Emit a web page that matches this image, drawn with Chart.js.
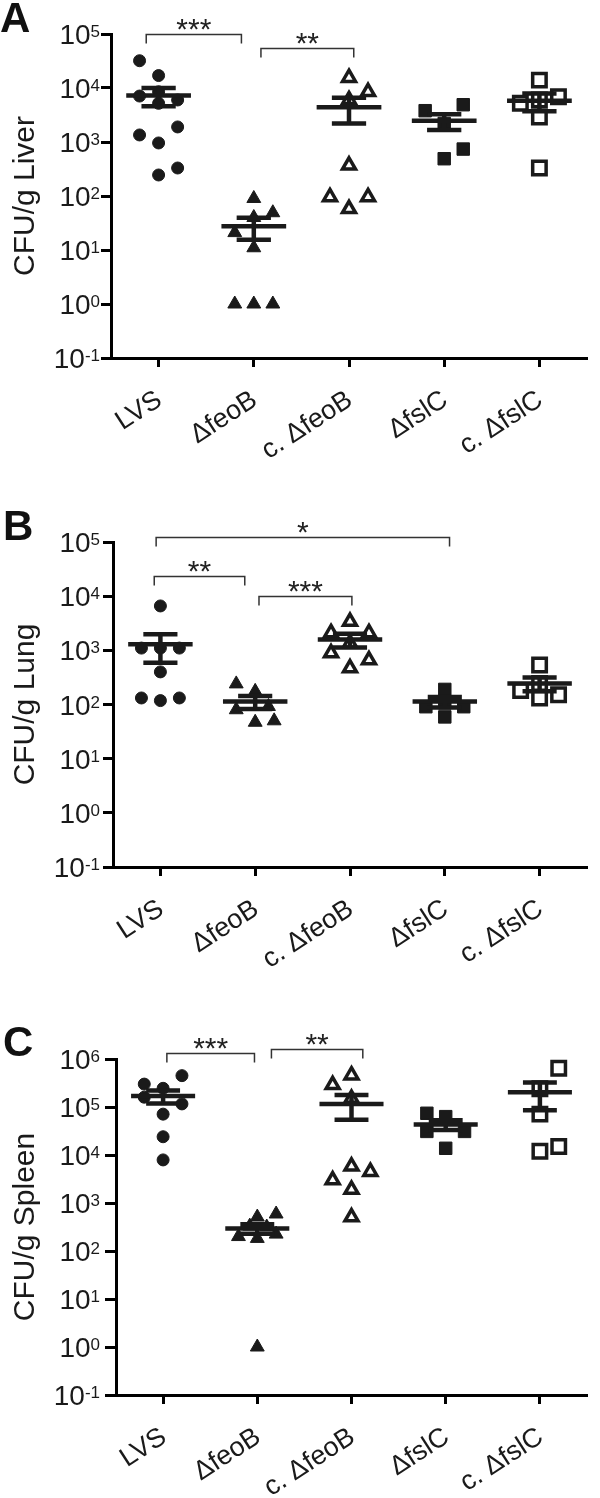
<!DOCTYPE html>
<html lang="en">
<head>
<meta charset="utf-8">
<title>CFU per gram of tissue</title>
<script src="https://cdn.jsdelivr.net/npm/chart.js@4.4.1/dist/chart.umd.min.js"></script>
<style>
  html, body { margin: 0; padding: 0; background: #fff; }
  body { width: 600px; height: 1498px; position: relative; overflow: hidden; }
  canvas { position: absolute; left: 0; }
</style>
</head>
<body>
<canvas id="liver" width="600" height="490" style="top:0"></canvas>
<canvas id="lung" width="600" height="500" style="top:490px"></canvas>
<canvas id="spleen" width="600" height="508" style="top:990px"></canvas>
<script>
const FONT = "'Liberation Sans', Arial, Helvetica, sans-serif";
const INK = '#1a1a1a';

const categories = ['LVS', 'ΔfeoB', 'c. ΔfeoB', 'ΔfslC', 'c. ΔfslC'];

// y tick exponents (labels are 10^n)
const liverTicks = [-1, 0, 1, 2, 3, 4, 5];
const lungTicks = [-1, 0, 1, 2, 3, 4, 5];
const spleenTicks = [-1, 0, 1, 2, 3, 4, 5, 6];

// A - liver, CFU/g for each animal
const liverLVS = [32000, 17000, 8500, 7100, 6000, 5200, 1900, 1350, 960, 330, 245];
const liverFeoB = [90, 49, 40, 21, 11, 1, 1, 1];
const liverCFeoB = [15500, 8500, 6000, 370, 96, 96, 58];
const liverFslC = [4900, 3800, 2200, 740, 490];
const liverCFslC = [14000, 6900, 6000, 5200, 2900, 330];
const liverMean = [7300, 27.5, 4400, 2470, 5800];
const liverSem = [2700, 12, 2200, 800, 2100];

// B - lung
const lungLVS = [6600, 1100, 1100, 1100, 400, 132, 118, 132];
const lungFeoB = [240, 175, 92, 80, 50, 47];
const lungCFeoB = [3400, 2100, 2100, 1350, 890, 660, 470];
const lungFslC = [190, 107, 91, 91, 59];
const lungCFslC = [536, 245, 182, 151, 131];
const lungMean = [1290, 113, 1580, 113, 245];
const lungSem = [700, 30, 450, 25, 70];

// C - spleen
const spleenLVS = [450000, 300000, 245000, 160000, 116000, 71000, 24000, 7900];
const spleenFeoB = [590, 510, 330, 316, 225, 200, 183, 1];
const spleenCFeoB = [460000, 290000, 150000, 5800, 4500, 3000, 1900, 510];
const spleenFslC = [74000, 63000, 31000, 31000, 13800];
const spleenCFslC = [640000, 240000, 71000, 15000, 12000];
const spleenMean = [170000, 294, 116000, 43000, 204000];
const spleenSem = [52000, 66, 62000, 10000, 118000];

// side-by-side slot of each dot in its column (-1 left, 0 middle, 1 right)
const liverCols = [
  [-1, 0, 0, -1, 1, 0, 1, -1, 0, 1, 0],
  [0, 1, 0, -1, 0, -1, 0, 1],
  [0, 1, 0, 0, -1, 1, 0],
  [1, -1, 0, 1, 0],
  [0, 1, 0, -1, 0, 0]
];
const lungCols = [
  [0, -1, 0, 1, 0, -1, 0, 1],
  [-1, 0, 0.7, -1, 1, 0],
  [0, -1, 1, 0, -1, 1, 0],
  [0, 0, -1, 1, 0],
  [0, 0, -1, 1, 0]
];
const spleenCols = [
  [1, -1, 0, -1, 1, 0, 0, 0],
  [1, 0, -0.4, 0.5, 1, -1, 0, 0],
  [0, -1, 0, 0, 1, -1, 0, 0],
  [-1, 0, -1, 1, 0],
  [1, 0, 0, 1, 0]
];

// marker per strain
const markers = [
  { shape: 'circle', r: 6, fill: INK, bw: 1 },
  { shape: 'triangle', r: 8, fill: INK, bw: 1 },
  { shape: 'triangle', r: 7.5, fill: '#fff', bw: 3.5 },
  { shape: 'rect', r: 8.8, fill: INK, bw: 1 },
  { shape: 'rect', r: 9.5, fill: '#fff', bw: 3.5 }
];

// mean bar, SEM caps and the stem joining them, split by gaps
function meanSemPath(mean, sem) {
  const path = [];
  mean.forEach((m, i) => {
    const hi = m + sem[i], lo = m - sem[i];
    path.push({ x: i - 0.34, y: m }, { x: i + 0.34, y: m }, { x: i, y: null });
    path.push({ x: i - 0.18, y: hi }, { x: i + 0.18, y: hi }, { x: i, y: null });
    path.push({ x: i - 0.18, y: lo }, { x: i + 0.18, y: lo }, { x: i, y: null });
    path.push({ x: i, y: lo }, { x: i, y: hi }, { x: i, y: null });
  });
  return path;
}

function annotations(p) {
  return {
    id: 'annotations',
    afterDraw(chart) {
      const { ctx, scales: { x, y } } = chart;
      ctx.save();

      // y tick labels: 10 with a raised exponent, right aligned
      ctx.fillStyle = INK;
      ctx.textBaseline = 'alphabetic';
      ctx.textAlign = 'left';
      y.ticks.forEach(t => {
        const py = y.getPixelForValue(t.value);
        const exp = String(Math.round(Math.log10(t.value)));
        ctx.font = '17px ' + FONT;
        const we = ctx.measureText(exp).width;
        ctx.font = '28px ' + FONT;
        const wb = ctx.measureText('10').width;
        const x0 = p.labelRight - we - wb;
        ctx.fillText('10', x0, py + 10);
        ctx.font = '17px ' + FONT;
        ctx.fillText(exp, x0 + wb, py + 3);
      });

      // significance brackets
      ctx.strokeStyle = '#333';
      ctx.lineWidth = 1.5;
      ctx.fillStyle = '#222';
      ctx.font = '30px ' + FONT;
      ctx.textAlign = 'center';
      p.brackets.forEach(b => {
        const x0 = x.getPixelForValue(b.x0);
        const x1 = x.getPixelForValue(b.x1);
        const yy = Math.round(y.getPixelForValue(b.y)) + 0.5;
        ctx.beginPath();
        ctx.moveTo(x0, yy + 9);
        ctx.lineTo(x0, yy);
        ctx.lineTo(x1, yy);
        ctx.lineTo(x1, yy + 9);
        ctx.stroke();
        ctx.fillText(b.text, (x0 + x1) / 2, yy + 4);
      });

      // panel letter
      ctx.fillStyle = '#111';
      ctx.font = 'bold 42px ' + FONT;
      ctx.textAlign = 'left';
      ctx.fillText(p.letter, p.letterX, p.letterY);
      ctx.restore();
    }
  };
}

function makePanel(id, p) {
  const datasets = [{
    data: meanSemPath(p.mean, p.sem),
    showLine: true,
    spanGaps: false,
    borderColor: INK,
    borderWidth: 4.5,
    pointRadius: 0,
    order: 0
  }];
  p.groups.forEach((vals, i) => {
    const m = markers[i];
    datasets.push({
      data: vals.map((v, k) => ({ x: i + p.cols[i][k] * 0.2, y: v })),
      pointStyle: m.shape,
      pointRadius: m.r,
      backgroundColor: m.fill,
      borderColor: INK,
      borderWidth: m.bw,
      order: 1
    });
  });

  new Chart(document.getElementById(id), {
    type: 'scatter',
    data: { datasets },
    options: {
      responsive: false,
      animation: false,
      events: [],
      layout: { padding: { left: 0, top: p.top, right: p.right, bottom: 0 } },
      plugins: { legend: { display: false }, tooltip: { enabled: false } },
      scales: {
        x: {
          type: 'linear',
          min: -0.5,
          max: 4.5,
          border: { display: true, width: 3, color: '#000' },
          grid: { drawOnChartArea: false, drawTicks: true, tickLength: 9, tickWidth: 3, tickColor: '#000' },
          ticks: {
            autoSkip: false,
            minRotation: 33,
            maxRotation: 33,
            padding: 17,
            labelOffset: 1,
            color: INK,
            font: { family: FONT, size: 27 },
            callback: v => categories[v] ?? ''
          },
          afterBuildTicks: s => { s.ticks = categories.map((c, i) => ({ value: i })); },
          afterFit: s => { s.height = p.xHeight; }
        },
        y: {
          type: 'logarithmic',
          min: Math.pow(10, p.ticks[0]),
          max: Math.pow(10, p.ticks[p.ticks.length - 1]),
          border: { display: true, width: 3, color: '#000' },
          grid: { drawOnChartArea: false, drawTicks: true, tickLength: p.tickLen, tickWidth: 3, tickColor: '#000' },
          ticks: { display: false },
          title: {
            display: true,
            text: p.title,
            color: INK,
            font: { family: FONT, size: 30 },
            padding: { top: 8, bottom: 0 }
          },
          afterBuildTicks: s => { s.ticks = p.ticks.map(e => ({ value: Math.pow(10, e) })); },
          afterFit: s => { s.width = p.left; }
        }
      }
    },
    plugins: [annotations(p)]
  });
}

makePanel('liver', {
  title: 'CFU/g Liver', letter: 'A', letterX: 0, letterY: 32,
  top: 34, left: 111, right: 6.5, xHeight: 132, tickLen: 10, labelRight: 100,
  ticks: liverTicks,
  groups: [liverLVS, liverFeoB, liverCFeoB, liverFslC, liverCFslC],
  cols: liverCols, mean: liverMean, sem: liverSem,
  brackets: [
    { x0: -0.13, x1: 0.87, y: 1e5, text: '***' },
    { x0: 1.075, x1: 2.05, y: 55000, text: '**' }
  ]
});

makePanel('lung', {
  title: 'CFU/g Lung', letter: 'B', letterX: 3, letterY: 50,
  top: 52, left: 113, right: 5, xHeight: 123, tickLen: 10, labelRight: 100,
  ticks: lungTicks,
  groups: [lungLVS, lungFeoB, lungCFeoB, lungFslC, lungCFslC],
  cols: lungCols, mean: lungMean, sem: lungSem,
  brackets: [
    { x0: -0.045, x1: 3.05, y: 123000, text: '*' },
    { x0: -0.065, x1: 0.89, y: 23400, text: '**' },
    { x0: 1.04, x1: 2.02, y: 10000, text: '***' }
  ]
});

makePanel('spleen', {
  title: 'CFU/g Spleen', letter: 'C', letterX: 3, letterY: 66,
  top: 69, left: 116, right: 2.5, xHeight: 103, tickLen: 11, labelRight: 100,
  ticks: spleenTicks,
  groups: [spleenLVS, spleenFeoB, spleenCFeoB, spleenFslC, spleenCFslC],
  cols: spleenCols, mean: spleenMean, sem: spleenSem,
  brackets: [
    { x0: 0.04, x1: 0.97, y: 1.33e6, text: '***' },
    { x0: 1.15, x1: 2.12, y: 1.62e6, text: '**' }
  ]
});
</script>
</body>
</html>
